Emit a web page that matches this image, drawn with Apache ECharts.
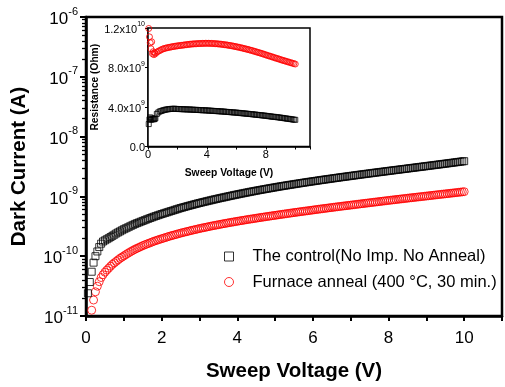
<!DOCTYPE html>
<html>
<head>
<meta charset="utf-8">
<script src="https://cdn.jsdelivr.net/npm/echarts@6/dist/echarts.min.js"></script>
<style>
  html, body { margin: 0; padding: 0; background: #fff; }
  #chart { width: 505px; height: 387px; }
</style>
</head>
<body>
<div id="chart"></div>
<script>
// main plot: sweep voltage (V), 0.05 V steps
const voltage = [0.05, 0.1, 0.15, 0.2, 0.25, 0.3, 0.35, 0.4, 0.45, 0.5,
  0.55, 0.6, 0.65, 0.7, 0.75, 0.8, 0.85, 0.9, 0.95, 1.0,
  1.05, 1.1, 1.15, 1.2, 1.25, 1.3, 1.35, 1.4, 1.45, 1.5,
  1.55, 1.6, 1.65, 1.7, 1.75, 1.8, 1.85, 1.9, 1.95, 2.0,
  2.05, 2.1, 2.15, 2.2, 2.25, 2.3, 2.35, 2.4, 2.45, 2.5,
  2.55, 2.6, 2.65, 2.7, 2.75, 2.8, 2.85, 2.9, 2.95, 3.0,
  3.05, 3.1, 3.15, 3.2, 3.25, 3.3, 3.35, 3.4, 3.45, 3.5,
  3.55, 3.6, 3.65, 3.7, 3.75, 3.8, 3.85, 3.9, 3.95, 4.0,
  4.05, 4.1, 4.15, 4.2, 4.25, 4.3, 4.35, 4.4, 4.45, 4.5,
  4.55, 4.6, 4.65, 4.7, 4.75, 4.8, 4.85, 4.9, 4.95, 5.0,
  5.05, 5.1, 5.15, 5.2, 5.25, 5.3, 5.35, 5.4, 5.45, 5.5,
  5.55, 5.6, 5.65, 5.7, 5.75, 5.8, 5.85, 5.9, 5.95, 6.0,
  6.05, 6.1, 6.15, 6.2, 6.25, 6.3, 6.35, 6.4, 6.45, 6.5,
  6.55, 6.6, 6.65, 6.7, 6.75, 6.8, 6.85, 6.9, 6.95, 7.0,
  7.05, 7.1, 7.15, 7.2, 7.25, 7.3, 7.35, 7.4, 7.45, 7.5,
  7.55, 7.6, 7.65, 7.7, 7.75, 7.8, 7.85, 7.9, 7.95, 8.0,
  8.05, 8.1, 8.15, 8.2, 8.25, 8.3, 8.35, 8.4, 8.45, 8.5,
  8.55, 8.6, 8.65, 8.7, 8.75, 8.8, 8.85, 8.9, 8.95, 9.0,
  9.05, 9.1, 9.15, 9.2, 9.25, 9.3, 9.35, 9.4, 9.45, 9.5,
  9.55, 9.6, 9.65, 9.7, 9.75, 9.8, 9.85, 9.9, 9.95, 10.0];

// dark current, in units of 1e-10 A
const controlCurrent = [0.24, 0.37, 0.55, 0.78, 1.00, 1.20, 1.42, 1.62, 1.76, 1.84,
  1.92, 2.00, 2.09, 2.19, 2.29, 2.40, 2.50, 2.60, 2.71, 2.82,
  2.92, 3.02, 3.13, 3.24, 3.35, 3.47, 3.57, 3.67, 3.78, 3.89,
  4.00, 4.12, 4.23, 4.35, 4.47, 4.59, 4.71, 4.83, 4.95, 5.07,
  5.19, 5.31, 5.43, 5.56, 5.69, 5.82, 5.96, 6.10, 6.24, 6.38,
  6.51, 6.64, 6.78, 6.92, 7.05, 7.19, 7.33, 7.48, 7.62, 7.76,
  7.90, 8.04, 8.18, 8.33, 8.47, 8.62, 8.77, 8.92, 9.07, 9.22,
  9.37, 9.52, 9.67, 9.83, 9.98, 10.14, 10.30, 10.46, 10.62, 10.78,
  10.94, 11.11, 11.27, 11.44, 11.60, 11.77, 11.94, 12.11, 12.28, 12.45,
  12.62, 12.79, 12.96, 13.14, 13.31, 13.49, 13.66, 13.84, 14.01, 14.19,
  14.37, 14.55, 14.73, 14.91, 15.09, 15.27, 15.45, 15.63, 15.81, 16.00,
  16.18, 16.37, 16.56, 16.75, 16.94, 17.13, 17.32, 17.51, 17.70, 17.89,
  18.08, 18.28, 18.48, 18.68, 18.88, 19.08, 19.28, 19.48, 19.68, 19.89,
  20.09, 20.30, 20.51, 20.72, 20.93, 21.14, 21.35, 21.56, 21.77, 21.99,
  22.21, 22.43, 22.65, 22.88, 23.10, 23.33, 23.55, 23.78, 24.01, 24.24,
  24.47, 24.71, 24.95, 25.19, 25.43, 25.67, 25.91, 26.16, 26.40, 26.65,
  26.90, 27.15, 27.40, 27.66, 27.92, 28.18, 28.44, 28.71, 28.98, 29.25,
  29.52, 29.80, 30.08, 30.36, 30.64, 30.93, 31.22, 31.51, 31.80, 32.10,
  32.40, 32.71, 33.02, 33.33, 33.65, 33.97, 34.29, 34.62, 34.95, 35.28,
  35.62, 35.96, 36.30, 36.65, 37.00, 37.36, 37.72, 38.09, 38.46, 38.83];

const furnaceCurrent = [0.042, 0.087, 0.125, 0.185, 0.254, 0.315, 0.375, 0.44, 0.49, 0.54,
  0.585, 0.63, 0.68, 0.73, 0.775, 0.82, 0.87, 0.92, 0.965, 1.01,
  1.06, 1.11, 1.16, 1.21, 1.26, 1.31, 1.355, 1.40, 1.45, 1.50,
  1.545, 1.59, 1.635, 1.68, 1.73, 1.78, 1.825, 1.87, 1.915, 1.96,
  2.005, 2.05, 2.10, 2.15, 2.195, 2.24, 2.285, 2.33, 2.38, 2.43,
  2.475, 2.52, 2.565, 2.61, 2.66, 2.71, 2.755, 2.80, 2.85, 2.90,
  2.945, 2.99, 3.035, 3.08, 3.13, 3.18, 3.225, 3.27, 3.315, 3.36,
  3.41, 3.46, 3.505, 3.55, 3.60, 3.65, 3.695, 3.74, 3.79, 3.84,
  3.885, 3.93, 3.98, 4.03, 4.08, 4.13, 4.175, 4.22, 4.27, 4.32,
  4.37, 4.42, 4.47, 4.52, 4.57, 4.62, 4.67, 4.72, 4.77, 4.82,
  4.875, 4.93, 4.98, 5.03, 5.085, 5.14, 5.195, 5.25, 5.305, 5.36,
  5.415, 5.47, 5.525, 5.58, 5.635, 5.69, 5.745, 5.80, 5.86, 5.92,
  5.98, 6.04, 6.10, 6.16, 6.22, 6.28, 6.34, 6.40, 6.46, 6.52,
  6.585, 6.65, 6.71, 6.77, 6.835, 6.90, 6.96, 7.02, 7.085, 7.15,
  7.215, 7.28, 7.35, 7.42, 7.485, 7.55, 7.62, 7.69, 7.76, 7.83,
  7.90, 7.97, 8.04, 8.11, 8.185, 8.26, 8.335, 8.41, 8.485, 8.56,
  8.635, 8.71, 8.785, 8.86, 8.94, 9.02, 9.095, 9.17, 9.25, 9.33,
  9.41, 9.49, 9.57, 9.65, 9.73, 9.81, 9.89, 9.97, 10.055, 10.14,
  10.225, 10.31, 10.40, 10.49, 10.58, 10.67, 10.76, 10.85, 10.94, 11.03,
  11.12, 11.21, 11.305, 11.40, 11.495, 11.59, 11.69, 11.79, 11.89, 11.99];

// inset: sweep voltage (V)
const insetVoltage = [0.05, 0.1, 0.15, 0.2, 0.25, 0.3, 0.35, 0.4, 0.45, 0.5,
  0.6, 0.7, 0.8, 0.9, 1.0, 1.1, 1.2, 1.3, 1.4, 1.5,
  1.6, 1.7, 1.8, 1.9, 2.0, 2.1, 2.2, 2.3, 2.4, 2.5,
  2.6, 2.7, 2.8, 2.9, 3.0, 3.1, 3.2, 3.3, 3.4, 3.5,
  3.6, 3.7, 3.8, 3.9, 4.0, 4.1, 4.2, 4.3, 4.4, 4.5,
  4.6, 4.7, 4.8, 4.9, 5.0, 5.1, 5.2, 5.3, 5.4, 5.5,
  5.6, 5.7, 5.8, 5.9, 6.0, 6.1, 6.2, 6.3, 6.4, 6.5,
  6.6, 6.7, 6.8, 6.9, 7.0, 7.1, 7.2, 7.3, 7.4, 7.5,
  7.6, 7.7, 7.8, 7.9, 8.0, 8.1, 8.2, 8.3, 8.4, 8.5,
  8.6, 8.7, 8.8, 8.9, 9.0, 9.1, 9.2, 9.3, 9.4, 9.5,
  9.6, 9.7, 9.8, 9.9, 10.0];

// inset: resistance, in units of 1e9 Ohm
const controlResistance = [2.27, 2.75, 2.95, 2.70, 2.85, 2.75, 2.80, 2.75, 2.80, 2.85,
  3.30, 3.45, 3.55, 3.60, 3.65, 3.70, 3.73, 3.76, 3.78, 3.80,
  3.81, 3.82, 3.82, 3.81, 3.80, 3.79, 3.79, 3.78, 3.77, 3.77,
  3.76, 3.75, 3.75, 3.74, 3.73, 3.72, 3.71, 3.71, 3.70, 3.69,
  3.68, 3.67, 3.67, 3.66, 3.65, 3.64, 3.63, 3.62, 3.61, 3.60,
  3.59, 3.58, 3.57, 3.56, 3.55, 3.54, 3.53, 3.51, 3.50, 3.49,
  3.48, 3.46, 3.45, 3.44, 3.43, 3.41, 3.40, 3.38, 3.37, 3.35,
  3.34, 3.32, 3.31, 3.29, 3.28, 3.26, 3.24, 3.23, 3.21, 3.19,
  3.18, 3.16, 3.14, 3.13, 3.11, 3.09, 3.07, 3.05, 3.03, 3.01,
  3.00, 2.98, 2.96, 2.94, 2.92, 2.90, 2.88, 2.85, 2.83, 2.81,
  2.79, 2.77, 2.74, 2.72, 2.70];

const furnaceResistance = [11.95, 11.1, 10.5, 9.9, 10.6, 9.4, 9.6, 9.3, 9.5, 9.4,
  9.55, 9.65, 9.72, 9.80, 9.87, 9.92, 9.96, 10.00, 10.03, 10.06,
  10.09, 10.12, 10.14, 10.17, 10.19, 10.21, 10.23, 10.25, 10.27, 10.29,
  10.31, 10.33, 10.35, 10.36, 10.38, 10.39, 10.40, 10.41, 10.42, 10.43,
  10.43, 10.44, 10.44, 10.45, 10.45, 10.45, 10.44, 10.44, 10.43, 10.42,
  10.41, 10.40, 10.38, 10.37, 10.35, 10.33, 10.31, 10.29, 10.27, 10.24,
  10.22, 10.19, 10.16, 10.13, 10.10, 10.07, 10.04, 10.00, 9.97, 9.93,
  9.89, 9.86, 9.82, 9.78, 9.74, 9.70, 9.65, 9.61, 9.56, 9.52,
  9.47, 9.43, 9.38, 9.33, 9.28, 9.23, 9.18, 9.14, 9.09, 9.04,
  8.99, 8.94, 8.90, 8.85, 8.80, 8.75, 8.71, 8.66, 8.62, 8.57,
  8.53, 8.48, 8.44, 8.39, 8.35];

const seriesNames = ["The control(No Imp. No Anneal)", "Furnace anneal (400 \u00B0C, 30 min.)"];
const insetTickLabels = { 0: "{a|0.0}", 4e9: "{a|4.0x10}{s|9}", 8e9: "{a|8.0x10}{s|9}", 1.2e10: "{a|1.2x10}{s|10}" };

const FONT = "'Liberation Sans', Arial, sans-serif";
const BLACK = "#000";
const RED = "#ff0000";

const chart = echarts.init(document.getElementById("chart"), null, { renderer: "canvas" });

const pairs = (xs, ys, unit) => xs.map((v, i) => [v, ys[i] * unit]);

const option = {
  animation: false,
  backgroundColor: "#fff",
  textStyle: { fontFamily: FONT, color: BLACK },
  grid: [
    { left: 86, top: 17, right: -3, bottom: 64, show: true, borderColor: BLACK, borderWidth: 2.5 },
    { left: 148, top: 28, width: 162, height: 118.5, show: true, borderColor: BLACK, borderWidth: 1.5, backgroundColor: "#fff", z: 5 },
  ],
  legend: {
    orient: "vertical",
    left: 219,
    top: 243,
    itemWidth: 9,
    itemHeight: 9,
    itemGap: 8.5,
    data: seriesNames,
    itemStyle: { borderWidth: 1 },
    textStyle: { fontSize: 16.5, color: BLACK, fontFamily: FONT, padding: [0, 0, 0, 14] },
  },
  xAxis: [
    {
      gridIndex: 0,
      type: "value",
      min: 0,
      max: 11,
      interval: 1,
      name: "Sweep Voltage (V)",
      nameLocation: "middle",
      nameGap: 45,
      nameTextStyle: { fontSize: 20.5, fontWeight: "bold", color: BLACK, fontFamily: FONT },
      axisLine: { lineStyle: { color: BLACK, width: 2.5 } },
      axisTick: { length: 5, lineStyle: { color: BLACK, width: 2 } },
      axisLabel: {
        fontSize: 17, color: BLACK, margin: 14, fontFamily: FONT,
        formatter: (v) => (v % 2 === 0 && v <= 10 ? String(v) : ""),
      },
      splitLine: { show: false },
    },
    {
      gridIndex: 1,
      type: "value",
      min: 0,
      max: 11,
      interval: 2,
      name: "Sweep Voltage (V)",
      nameLocation: "middle",
      nameGap: 22,
      nameTextStyle: { fontSize: 10.3, fontWeight: "bold", color: BLACK, fontFamily: FONT },
      axisLine: { lineStyle: { color: BLACK, width: 1.5 } },
      axisTick: { length: 3, lineStyle: { color: BLACK, width: 1 } },
      axisLabel: {
        fontSize: 11, color: BLACK, margin: 3, fontFamily: FONT,
        formatter: (v) => (v % 4 === 0 && v <= 8 ? String(v) : ""),
      },
      splitLine: { show: false },
    },
  ],
  yAxis: [
    {
      gridIndex: 0,
      type: "log",
      logBase: 10,
      min: 1e-11,
      max: 1e-6,
      name: "Dark Current (A)",
      nameLocation: "middle",
      nameRotate: 90,
      nameGap: 56,
      nameTextStyle: { fontSize: 20.5, fontWeight: "bold", color: BLACK, fontFamily: FONT },
      axisLine: { lineStyle: { color: BLACK, width: 2.5 } },
      axisTick: { length: 6, lineStyle: { color: BLACK, width: 2 } },
      minorTick: { show: true, splitNumber: 9, length: 4, lineStyle: { color: BLACK, width: 1.3 } },
      axisLabel: {
        margin: 8,
        fontFamily: FONT,
        formatter: (v) => "{a|10}{s|" + Math.round(Math.log10(v)) + "}",
        rich: {
          a: { fontSize: 17, color: BLACK, fontFamily: FONT, verticalAlign: "bottom", lineHeight: 22 },
          s: { fontSize: 11, color: BLACK, fontFamily: FONT, verticalAlign: "top", lineHeight: 22 },
        },
      },
      splitLine: { show: false },
    },
    {
      gridIndex: 1,
      type: "value",
      min: 0,
      max: 1.2e10,
      interval: 4e9,
      name: "Resistance (Ohm)",
      nameLocation: "middle",
      nameRotate: 90,
      nameGap: 36,
      nameTextStyle: { fontSize: 10.2, fontWeight: "bold", color: BLACK, fontFamily: FONT },
      axisLine: { lineStyle: { color: BLACK, width: 1.5 } },
      axisTick: { length: 3, lineStyle: { color: BLACK, width: 1 } },
      axisLabel: {
        margin: 3,
        fontFamily: FONT,
        formatter: (v) => insetTickLabels[v] || "",
        rich: {
          a: { fontSize: 11, color: BLACK, fontFamily: FONT, verticalAlign: "bottom", lineHeight: 14 },
          s: { fontSize: 7, color: BLACK, fontFamily: FONT, verticalAlign: "top", lineHeight: 14 },
        },
      },
      splitLine: { show: false },
    },
  ],
  series: [
    {
      name: seriesNames[1],
      type: "scatter",
      xAxisIndex: 0,
      yAxisIndex: 0,
      symbol: "circle",
      symbolSize: 8,
      itemStyle: { color: "rgba(255,255,255,0)", borderColor: RED, borderWidth: 1 },
      data: pairs(voltage, furnaceCurrent, 1e-10),
      z: 2,
    },
    {
      name: seriesNames[0],
      type: "scatter",
      xAxisIndex: 0,
      yAxisIndex: 0,
      symbol: "rect",
      symbolSize: 7,
      itemStyle: { color: "rgba(255,255,255,0)", borderColor: BLACK, borderWidth: 1 },
      data: pairs(voltage, controlCurrent, 1e-10),
      z: 3,
    },
    {
      name: "control R",
      type: "scatter",
      xAxisIndex: 1,
      yAxisIndex: 1,
      symbol: "rect",
      symbolSize: 5,
      itemStyle: { color: "rgba(255,255,255,0)", borderColor: BLACK, borderWidth: 1 },
      data: pairs(insetVoltage, controlResistance, 1e9),
      z: 6,
    },
    {
      name: "furnace R",
      type: "scatter",
      xAxisIndex: 1,
      yAxisIndex: 1,
      symbol: "circle",
      symbolSize: 6,
      itemStyle: { color: "rgba(255,255,255,0)", borderColor: RED, borderWidth: 1 },
      data: pairs(insetVoltage, furnaceResistance, 1e9),
      z: 6,
    },
  ],
};

chart.setOption(option);
</script>
</body>
</html>
